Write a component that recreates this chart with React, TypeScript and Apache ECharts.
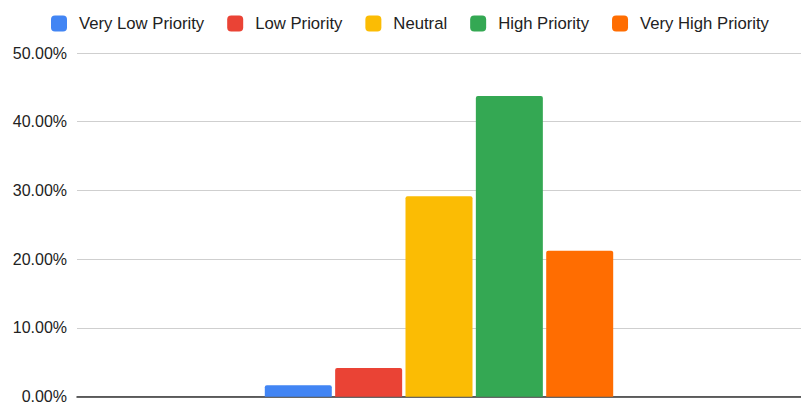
import React, { useEffect, useRef } from "react";
import * as echarts from "echarts";

const categories = ["Priority"];
const seriesNames = ["Very Low Priority", "Low Priority", "Neutral", "High Priority", "Very High Priority"];
const seriesValues = [1.67, 4.17, 29.17, 43.75, 21.25];
const seriesColors = ["#4285F4", "#EA4335", "#FBBC04", "#34A853", "#FF6D01"];
const yTicks = { min: 0, max: 50, interval: 10 };

export default function App() {
  const ref = useRef<HTMLDivElement>(null);
  useEffect(() => {
    if (!ref.current) return;
    const chart = echarts.init(ref.current, undefined, { renderer: "svg" });
    const font = "'Liberation Sans', Arial, Helvetica, sans-serif";
    chart.setOption({
      animation: false,
      textStyle: { fontFamily: font },
      legend: {
        top: 10,
        left: 46,
        icon: "roundRect",
        itemWidth: 16,
        itemHeight: 16,
        itemGap: 23,
        textStyle: { fontSize: 16.7, color: "#222", fontFamily: font, padding: [0, 0, 0, 7] },
        data: seriesNames,
      },
      grid: { left: 77, right: 0, top: 53, bottom: 9.3, containLabel: false },
      xAxis: {
        type: "category",
        data: categories,
        axisLabel: { show: false },
        axisTick: { show: false },
        axisLine: { show: true, lineStyle: { color: "#333", width: 1.5 } },
      },
      yAxis: {
        type: "value",
        min: yTicks.min,
        max: yTicks.max,
        interval: yTicks.interval,
        axisLine: { show: false },
        axisTick: { show: false },
        splitLine: { lineStyle: { color: "#cfcfcf", width: 1.2 } },
        axisLabel: {
          margin: 10,
          fontSize: 16,
          color: "#222",
          fontFamily: font,
          formatter: (v: number) => v.toFixed(2) + "%",
        },
      },
      series: seriesNames.map((name, i) => ({
        name,
        type: "bar",
        data: [seriesValues[i]],
        barWidth: 67,
        barGap: "5%",
        itemStyle: { color: seriesColors[i], borderRadius: [2, 2, 0, 0] },
      })),
    });
    return () => chart.dispose();
  }, []);
  return (
    <div
      ref={ref}
      style={{ position: "fixed", left: 0, top: 0, width: 801, height: 406, background: "#fff" }}
    />
  );
}
